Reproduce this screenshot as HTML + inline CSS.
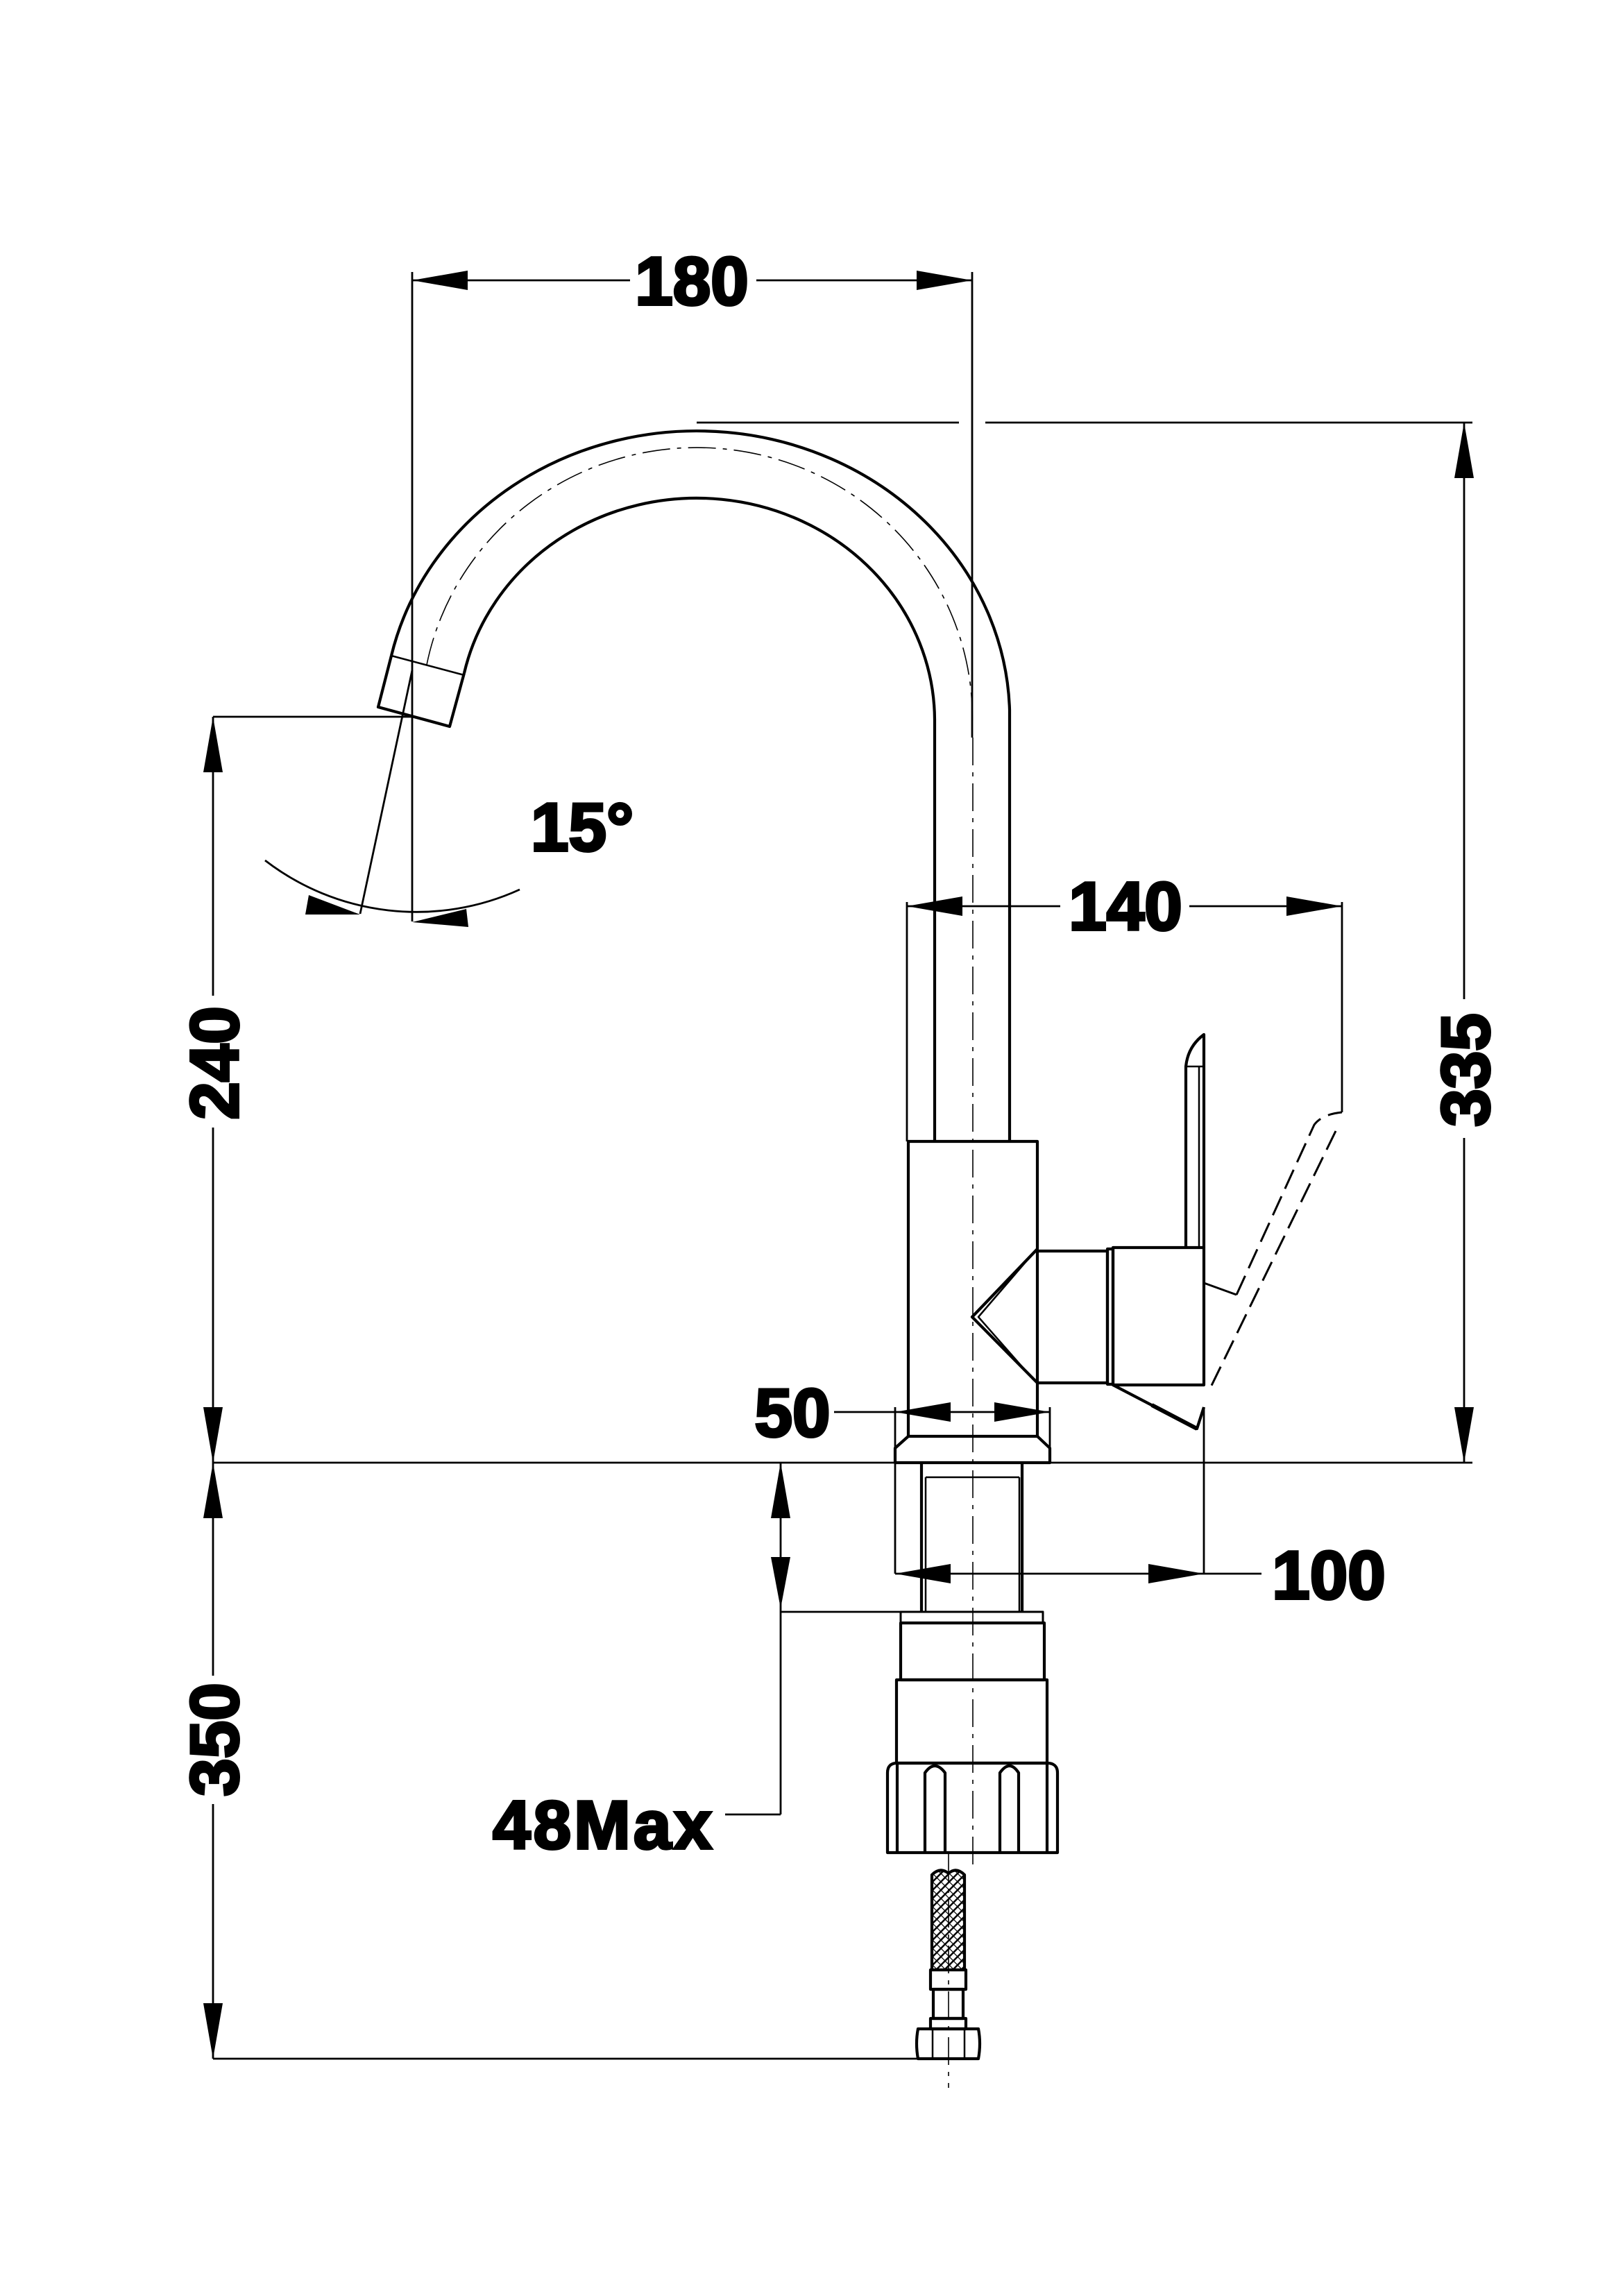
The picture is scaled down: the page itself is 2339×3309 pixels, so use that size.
<!DOCTYPE html>
<html><head><meta charset="utf-8"><style>
html,body{margin:0;padding:0;background:#fff;}
svg{display:block;}
text{font-family:"Liberation Sans",Arial,sans-serif;font-weight:bold;fill:#000;stroke:#000;stroke-width:4;}
</style></head><body>
<svg width="2339" height="3309" viewBox="0 0 2339 3309" xmlns="http://www.w3.org/2000/svg">
<defs>
<pattern id="hatch" width="12" height="12" patternUnits="userSpaceOnUse">
<path d="M0 12 L12 0 M-3 3 L3 -3 M9 15 L15 9" stroke="#000" stroke-width="2.5"/>
<path d="M0 0 L12 12" stroke="#000" stroke-width="1.2"/>
</pattern>
</defs>
<g fill="none" stroke="#000" stroke-width="2.8">
<line x1="594" y1="404" x2="908" y2="404"/><line x1="1090" y1="404" x2="1401" y2="404"/>
<line x1="594" y1="392" x2="594" y2="1328"/>
<line x1="1401" y1="392" x2="1401" y2="1063"/>
<line x1="1004" y1="609" x2="1382" y2="609"/><line x1="1420" y1="609" x2="2122" y2="609"/>
<line x1="2110" y1="609" x2="2110" y2="1440"/><line x1="2110" y1="1640" x2="2110" y2="2108"/>
<line x1="307" y1="2108" x2="2122" y2="2108"/>
<line x1="307" y1="1033" x2="594" y2="1033"/>
<line x1="307" y1="1033" x2="307" y2="1435"/><line x1="307" y1="1625" x2="307" y2="2415"/><line x1="307" y1="2600" x2="307" y2="2967"/>
<line x1="307" y1="2967" x2="1330" y2="2967"/>
<line x1="594" y1="966" x2="519" y2="1317"/>
<path d="M382 1240 A358 358 0 0 0 749 1282"/>
<line x1="1307" y1="1306" x2="1528" y2="1306"/><line x1="1714" y1="1306" x2="1934" y2="1306"/>
<line x1="1307" y1="1300" x2="1307" y2="1645"/>
<line x1="1934" y1="1300" x2="1934" y2="1603"/>
<line x1="1202" y1="2035" x2="1513" y2="2035"/>
<line x1="1290" y1="2028" x2="1290" y2="2268"/><line x1="1513" y1="2028" x2="1513" y2="2108"/>
<line x1="1290" y1="2268" x2="1818" y2="2268"/>
<line x1="1735" y1="2028" x2="1735" y2="2268"/>
<line x1="1125" y1="2108" x2="1125" y2="2615"/>
<line x1="1045" y1="2615" x2="1125" y2="2615"/>
<line x1="1125" y1="2323" x2="1504" y2="2323"/>
</g>
<g fill="#000">
<polygon points="594,404 674,390 674,418"/>
<polygon points="1401,404 1321,390 1321,418"/>
<polygon points="2110,609 2096,689 2124,689"/>
<polygon points="2110,2108 2096,2028 2124,2028"/>
<polygon points="307,1033 293,1113 321,1113"/>
<polygon points="307,2108 293,2028 321,2028"/>
<polygon points="307,2108 293,2188 321,2188"/>
<polygon points="307,2967 293,2887 321,2887"/>
<polygon points="1307,1306 1387,1292 1387,1320"/>
<polygon points="1934,1306 1854,1292 1854,1320"/>
<polygon points="1290,2035 1370,2021 1370,2049"/>
<polygon points="1513,2035 1433,2021 1433,2049"/>
<polygon points="1290,2268 1370,2254 1370,2282"/>
<polygon points="1735,2268 1655,2254 1655,2282"/>
<polygon points="1125,2108 1111,2188 1139,2188"/>
<polygon points="1125,2318 1111,2244 1139,2244"/>
<polygon points="519,1318 445,1290 440,1318"/>
<polygon points="594,1329 672,1310 675,1336"/>
</g>
<g fill="none" stroke="#000" stroke-width="1.6" stroke-dasharray="40,10,6,10">
<path d="M615 958 A397 389 0 0 1 1401 1050"/>
<line x1="1402" y1="1063" x2="1402" y2="2691"/>
<line x1="1367" y1="2672" x2="1367" y2="3009"/>
</g>
<g fill="none" stroke="#000" stroke-width="4.2" stroke-linejoin="round">
<path d="M564 945 A451 414 0 0 1 1455 1023 L1455 1645"/>
<path d="M669 970 A343 321 0 0 1 1347 1037 L1347 1645"/>
<path d="M564 945 L545 1019 L648 1047 L669 970"/>
<line x1="564" y1="945" x2="669" y2="973" stroke-width="2.5"/>
<path d="M1309 1645 L1495 1645 L1495 1800 L1401 1898 L1495 1993 L1495 2070 L1309 2070 Z"/>
<path d="M1489 1806 L1410 1898 L1489 1988" stroke-width="2.5"/>
<rect x="1495" y="1803" width="101" height="190"/>
<rect x="1596" y="1800" width="8" height="195"/>
<rect x="1604" y="1798" width="131" height="198"/>
<path d="M1604 1996 L1725 2059 L1735 2028"/>
<line x1="1660" y1="2025" x2="1725" y2="2059" stroke-width="6"/>
<path d="M1709 1798 L1709 1537 Q1712 1508 1735 1491 L1735 1798"/>
<line x1="1728" y1="1537" x2="1728" y2="1798" stroke-width="2.5"/>
<line x1="1709" y1="1537" x2="1735" y2="1537" stroke-width="2.5"/>
<line x1="1735" y1="1849" x2="1782" y2="1866" stroke-width="3"/>
<path d="M1309 2070 L1290 2087 L1290 2108 L1513 2108 L1513 2087 L1495 2070"/>
<path d="M1328 2108 L1328 2323 M1473 2108 L1473 2323"/>
<path d="M1334 2129 L1334 2323 M1469 2129 L1469 2323 M1334 2129 L1469 2129" stroke-width="2.5"/>
<rect x="1298" y="2323" width="205" height="16" stroke-width="3"/>
<rect x="1298" y="2339" width="207" height="82"/>
<rect x="1292" y="2421" width="217" height="120"/>
<path d="M1279 2670 L1279 2555 Q1279 2541 1293 2541 L1509 2541 Q1524 2541 1524 2555 L1524 2670 Z"/>
<line x1="1293" y1="2541" x2="1293" y2="2670"/>
<line x1="1509" y1="2541" x2="1509" y2="2670"/>
<path d="M1333 2670 L1333 2555 Q1347 2535 1362 2555 L1362 2670"/>
<path d="M1441 2670 L1441 2555 Q1455 2535 1468 2555 L1468 2670"/>
<path d="M1343 2839 L1343 2702 Q1355 2690 1367 2700 Q1378 2690 1390 2702 L1390 2839" fill="url(#hatch)"/>
<rect x="1341" y="2839" width="51" height="28"/>
<rect x="1345" y="2867" width="43" height="42"/>
<rect x="1341" y="2909" width="51" height="15"/>
<path d="M1323 2924 L1410 2924 Q1414 2945 1410 2967 L1323 2967 Q1319 2945 1323 2924 Z"/>
<line x1="1344" y1="2926" x2="1344" y2="2965" stroke-width="2.5"/>
<line x1="1390" y1="2926" x2="1390" y2="2965" stroke-width="2.5"/>
</g>
<g fill="none" stroke="#000" stroke-width="3" stroke-dasharray="30,12">
<path d="M1782 1866 L1894 1621 Q1905 1606 1934 1603"/>
<path d="M1925 1630 L1741 2007"/>
</g>
<text x="997" y="439" font-size="98" text-anchor="middle">180</text>
<text x="765" y="1226" font-size="98">15°</text>
<text x="1622" y="1340" font-size="98" text-anchor="middle">140</text>
<text x="1142" y="2070" font-size="98" text-anchor="middle">50</text>
<text x="1915" y="2304" font-size="98" text-anchor="middle">100</text>
<text x="870" y="2664" font-size="98" text-anchor="middle" letter-spacing="4">48Max</text>
<text transform="translate(343,1532) rotate(-90)" font-size="98" text-anchor="middle">240</text>
<text transform="translate(343,2507) rotate(-90)" font-size="98" text-anchor="middle">350</text>
<text transform="translate(2146,1542) rotate(-90)" font-size="98" text-anchor="middle">335</text>
</svg>
</body></html>
